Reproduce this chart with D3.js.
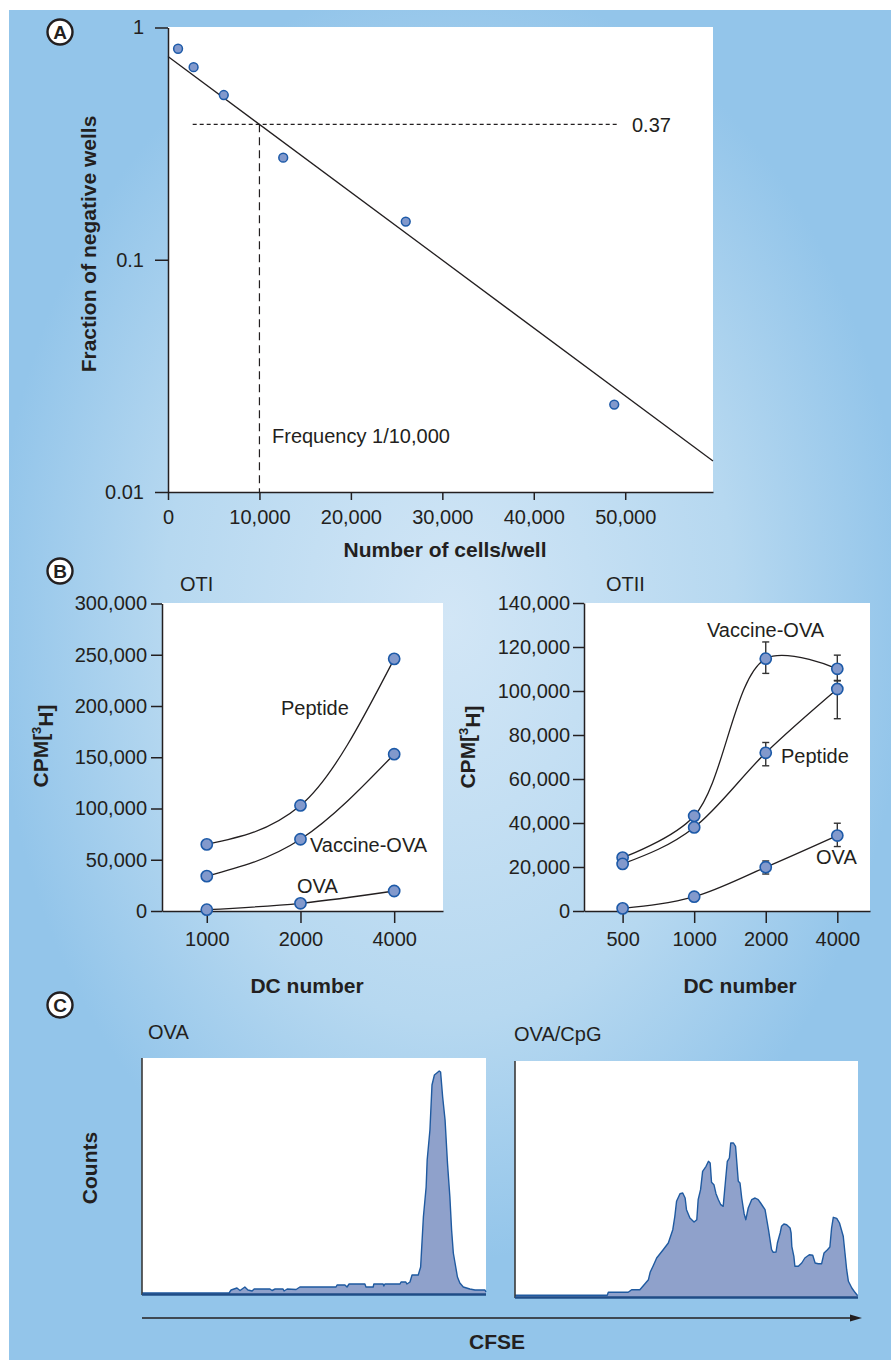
<!DOCTYPE html>
<html>
<head>
<meta charset="utf-8">
<script src="https://cdn.jsdelivr.net/npm/d3@7"></script>
<style>
  html, body { margin: 0; padding: 0; background: #fff; }
  svg { display: block; font-family: 'Liberation Sans', Arial, Helvetica, sans-serif; }
</style>
</head>
<body>
<svg id="fig" width="891" height="1360"></svg>
<script>
// ---- Panel A: limiting dilution ----
const cellsPerWell = [1100, 2800, 6100, 12600, 26000, 48800];
const fracNegative = [0.81, 0.675, 0.512, 0.275, 0.146, 0.0238];
const fitCells = [0, 59600];
const fitFrac = [0.75, 0.0136];
const cutoffLevel = 0.383;   // where the "0.37" line is drawn
const cutoffCells = 10000;
const aYTicks = [1, 0.1, 0.01];
const aXTicks = [0, 10000, 20000, 30000, 40000, 50000];

// ---- Panel B: OTI ----
const otiDC = [1000, 2000, 4000];
const otiPeptide = [65000, 103000, 246000];
const otiVaccine = [34000, 70000, 153000];
const otiOVA = [1300, 7500, 19500];
const otiYTicks = [0, 50000, 100000, 150000, 200000, 250000, 300000];

// ---- Panel B: OTII ----
const otiiDC = [500, 1000, 2000, 4000];
const otiiVaccine = [24300, 43200, 114700, 110100];
const otiiVaccineUp = [0, 0, 7600, 6200];
const otiiVaccineDown = [0, 0, 6700, 5500];
const otiiPeptide = [21400, 38000, 71900, 100900];
const otiiPeptideUp = [0, 0, 4700, 3900];
const otiiPeptideDown = [0, 0, 5900, 13500];
const otiiOVA = [1200, 6500, 19900, 34300];
const otiiOVAUp = [0, 1500, 2850, 5600];
const otiiOVADown = [0, 1500, 3100, 5000];
const otiiYTicks = [0, 20000, 40000, 60000, 80000, 100000, 120000, 140000];

// ---- Panel C: CFSE histograms (relative CFSE, counts) ----
const ovaCFSE = [0, 25.3, 25.9, 27.6, 28.5, 29.9, 30.8, 32.0, 32.6, 37.2, 37.8, 38.7, 41.0, 41.3, 42.2, 44.8,
  45.9, 56.4, 56.7, 59.0, 59.6, 60.2, 64.8, 65.1, 67.2, 67.4, 70.1, 70.3, 70.6, 75.0, 75.3, 76.7, 77.0,
  77.9, 78.5, 80.3, 81.0, 81.8, 82.6, 82.9, 83.7, 84.3, 85.0, 85.7, 86.4, 86.8, 87.4, 88.1, 88.8, 89.5,
  90.0, 90.5, 91.0, 91.7, 92.4, 93.4, 95.3, 96.8, 99.7, 100];
const ovaCounts = [1, 1, 4, 6, 3.5, 7, 4, 3, 5, 5, 3.5, 5, 5, 3, 5, 4.5,
  7, 7, 9, 9, 7, 10, 10, 7, 7, 10, 10, 8, 10, 10, 12, 12, 10,
  12, 19, 19, 27, 77, 107, 134, 164, 209, 219, 221, 223, 222, 197, 174, 131, 97,
  64, 41, 31, 17, 11, 7, 5, 4, 4, 2];

const cpgCFSE = [0, 26.9, 27.2, 33.0, 34.0, 36.4, 37.9, 38.9, 39.4, 40.3, 41.3, 43.2, 44.7, 46.0, 46.6,
  47.1, 48.1, 48.9, 49.6, 50.0, 51.0, 52.2, 53.0, 53.4, 54.1, 54.7, 55.7, 56.4, 56.9, 57.3, 58.0, 58.6,
  59.3, 60.0, 60.7, 61.4, 61.9, 62.5, 62.9, 63.7, 64.3, 65.1, 65.6, 66.1, 66.8, 67.3, 68.0, 69.0, 70.0,
  70.9, 71.6, 72.9, 73.9, 74.8, 75.3, 76.1, 76.5, 77.3, 77.7, 78.4, 79.2, 80.2, 80.5, 80.7, 81.3, 81.6,
  82.6, 83.6, 84.5, 85.8, 86.8, 87.5, 88.4, 89.4, 90.1, 91.1, 91.8, 92.3, 92.8, 93.8, 94.6, 95.7, 96.2,
  96.7, 97.2, 98.2, 99.1, 99.9];
const cpgCounts = [1.7, 1.7, 4.7, 4.7, 7.3, 7.3, 13.3, 17.3, 24.7, 31.3, 39, 47.3, 54, 67.3, 80.7,
  95.7, 103.3, 104, 99, 87.3, 79, 75, 77.3, 97.3, 107.3, 125.7, 130.7, 135.7, 134, 114.7, 112.3, 103.3,
  97.3, 92.3, 90.7, 117.3, 135.7, 139, 154, 154, 150.7, 115.7, 114, 99, 83.3, 77.3, 89, 97.3, 99,
  97.3, 94, 87.3, 67.3, 47.3, 44.7, 45, 54, 64, 70.7, 73, 72.3, 69, 64, 50.7, 40.7, 30.7,
  30.7, 34, 39, 42.3, 41.7, 34, 33.3, 33.3, 44, 47.3, 50, 69, 79.7, 78.7, 74, 60.7, 44,
  27.3, 15.7, 9, 4.7, 1.3];

const ink = '#231f20';
const dotFill = '#8299cc';
const dotStroke = '#1d5aa8';
const histFill = '#8fa1cb';
const histStroke = '#1f5aa0';

const svg = d3.select('#fig');

// background
const grad = svg.append('defs').append('radialGradient')
  .attr('id', 'bg')
  .attr('gradientUnits', 'userSpaceOnUse')
  .attr('cx', 450).attr('cy', 620).attr('r', 520)
  .attr('gradientTransform', 'translate(450,620) scale(1,1.4) translate(-450,-620)');
grad.append('stop').attr('offset', 0).attr('stop-color', '#d2e6f6');
grad.append('stop').attr('offset', 0.55).attr('stop-color', '#b6d8f0');
grad.append('stop').attr('offset', 0.88).attr('stop-color', '#93c5ea');
grad.append('stop').attr('offset', 1).attr('stop-color', '#93c5ea');

svg.append('rect').attr('x', 9).attr('y', 10).attr('width', 882).attr('height', 1350)
  .attr('fill', 'url(#bg)');

function label(x, y, txt, opts = {}) {
  const t = svg.append('text')
    .attr('x', x).attr('y', y).attr('dy', '0.35em')
    .attr('fill', ink)
    .attr('font-size', opts.size || 20)
    .attr('font-weight', opts.bold ? 'bold' : 'normal')
    .attr('text-anchor', opts.anchor || 'start')
    .text(txt);
  if (opts.rotate) t.attr('transform', `rotate(-90,${x},${y})`);
  return t;
}

function styleAxis(g) {
  g.selectAll('path, line').attr('stroke', ink).attr('stroke-width', 1.5);
  g.selectAll('text').attr('fill', ink).attr('font-size', 20)
    .attr('font-family', "'Liberation Sans', Arial, Helvetica, sans-serif");
  g.attr('font-family', null).attr('font-size', null);
}

function panelTag(x, y, letter) {
  svg.append('circle').attr('cx', x).attr('cy', y).attr('r', 12.5)
    .attr('fill', '#fff').attr('stroke', ink).attr('stroke-width', 2.4);
  svg.append('text').attr('x', x).attr('y', y).attr('dy', '0.36em')
    .attr('text-anchor', 'middle').attr('font-weight', 'bold').attr('font-size', 19)
    .attr('fill', ink).text(letter);
}

// ================= Panel A =================
const xA = d3.scaleLinear().domain([0, 59600]).range([168, 713]);
const yA = d3.scaleLog().domain([0.01, 1]).range([492, 27.5]);

svg.append('rect').attr('x', 168).attr('y', 27).attr('width', 545).attr('height', 465).attr('fill', '#fff');

// fitted line
svg.append('path')
  .datum(d3.zip(fitCells, fitFrac))
  .attr('d', d3.line().x(d => xA(d[0])).y(d => yA(d[1])))
  .attr('fill', 'none').attr('stroke', ink).attr('stroke-width', 1.3);

// 0.37 reference lines
svg.append('line')
  .attr('x1', xA(2700)).attr('x2', xA(49200))
  .attr('y1', yA(cutoffLevel)).attr('y2', yA(cutoffLevel))
  .attr('stroke', ink).attr('stroke-width', 1.2).attr('stroke-dasharray', '4,3');
svg.append('line')
  .attr('x1', xA(cutoffCells)).attr('x2', xA(cutoffCells))
  .attr('y1', yA(cutoffLevel)).attr('y2', yA(0.01))
  .attr('stroke', ink).attr('stroke-width', 1.2).attr('stroke-dasharray', '8,5');

label(632, 125, '0.37');
label(272, 436, 'Frequency 1/10,000');

svg.append('g').attr('transform', 'translate(168,0)')
  .call(d3.axisLeft(yA).tickValues(aYTicks).tickFormat(d => String(d))
    .tickSize(13).tickPadding(11).tickSizeOuter(0))
  .call(styleAxis);
svg.append('g').attr('transform', 'translate(0,492)')
  .call(d3.axisBottom(xA).tickValues(aXTicks).tickFormat(d3.format(','))
    .tickSize(8).tickPadding(10).tickSizeOuter(0))
  .call(styleAxis);

svg.append('g').selectAll('circle')
  .data(d3.zip(cellsPerWell, fracNegative))
  .join('circle')
  .attr('cx', d => xA(d[0])).attr('cy', d => yA(d[1])).attr('r', 4.4)
  .attr('fill', dotFill).attr('stroke', dotStroke).attr('stroke-width', 1.5);

label(89, 244, 'Fraction of negative wells', { bold: true, size: 21, anchor: 'middle', rotate: true });
label(445, 550, 'Number of cells/well', { bold: true, size: 21, anchor: 'middle' });
panelTag(60, 32, 'A');

// ================= Panel B =================
function cpmTitle(x, y) {
  const t = svg.append('text')
    .attr('x', x).attr('y', y).attr('dy', '0.35em')
    .attr('text-anchor', 'middle').attr('font-weight', 'bold').attr('font-size', 21)
    .attr('fill', ink)
    .attr('transform', `rotate(-90,${x},${y})`);
  t.append('tspan').text('CPM[');
  t.append('tspan').attr('font-size', 13).attr('dy', '-0.55em').text('3');
  t.append('tspan').attr('dy', '0.55em').text('H]');
}

function growthPanel(cfg) {
  const { x, y, left, right, top, bottom } = cfg;
  svg.append('rect').attr('x', left).attr('y', top)
    .attr('width', right - left).attr('height', bottom - top).attr('fill', '#fff');

  cfg.series.forEach(s => {
    const line = d3.line().x((d, i) => x(cfg.dc[i])).y(d => y(d)).curve(s.curve || cfg.curve);
    svg.append('path').datum(s.values).attr('d', line)
      .attr('fill', 'none').attr('stroke', ink).attr('stroke-width', 1.3);
  });

  svg.append('g').attr('transform', `translate(${left},0)`)
    .call(d3.axisLeft(y).tickValues(cfg.yTicks).tickFormat(d3.format(','))
      .tickSize(11).tickPadding(cfg.yPad).tickSizeOuter(0))
    .call(styleAxis);
  svg.append('g').attr('transform', `translate(0,${bottom})`)
    .call(d3.axisBottom(x).tickValues(cfg.dc).tickFormat(d3.format('d'))
      .tickSize(12).tickPadding(9).tickSizeOuter(0))
    .call(styleAxis);

  cfg.series.forEach(s => {
    if (s.up) {
      const eb = svg.append('g');
      s.values.forEach((v, i) => {
        if (!s.up[i] && !s.down[i]) return;
        const cx = x(cfg.dc[i]);
        const y1 = y(v + s.up[i]), y2 = y(v - s.down[i]);
        eb.append('line').attr('x1', cx).attr('x2', cx).attr('y1', y1).attr('y2', y2);
        eb.append('line').attr('x1', cx - 3.5).attr('x2', cx + 3.5).attr('y1', y1).attr('y2', y1);
        eb.append('line').attr('x1', cx - 3.5).attr('x2', cx + 3.5).attr('y1', y2).attr('y2', y2);
      });
      eb.selectAll('line').attr('stroke', '#333').attr('stroke-width', 1.4);
    }
    svg.append('g').selectAll('circle').data(s.values).join('circle')
      .attr('cx', (d, i) => x(cfg.dc[i])).attr('cy', d => y(d)).attr('r', 5.6)
      .attr('fill', dotFill).attr('stroke', dotStroke).attr('stroke-width', 1.6);
  });
}

const xB1 = d3.scaleLog().base(2).domain([718, 5740]).range([162, 443]);
const yB1 = d3.scaleLinear().domain([0, 300000]).range([911, 603.5]);
growthPanel({
  x: xB1, y: yB1, left: 162, right: 443, top: 603, bottom: 911,
  dc: otiDC, yTicks: otiYTicks, yPad: 4, curve: d3.curveMonotoneX,
  series: [{ values: otiPeptide }, { values: otiVaccine }, { values: otiOVA }]
});
label(180, 584, 'OTI');
label(281, 708, 'Peptide');
label(310, 845, 'Vaccine-OVA');
label(297, 886, 'OVA');
cpmTitle(41, 746);
label(307, 986, 'DC number', { bold: true, size: 21, anchor: 'middle' });

const xB2 = d3.scaleLog().base(2).domain([344, 5490]).range([584, 870]);
const yB2 = d3.scaleLinear().domain([0, 140000]).range([911, 603]);
growthPanel({
  x: xB2, y: yB2, left: 584, right: 870, top: 603, bottom: 911,
  dc: otiiDC, yTicks: otiiYTicks, yPad: 3, curve: d3.curveMonotoneX,
  series: [
    { values: otiiVaccine, up: otiiVaccineUp, down: otiiVaccineDown, curve: d3.curveCatmullRom.alpha(0.5) },
    { values: otiiPeptide, up: otiiPeptideUp, down: otiiPeptideDown },
    { values: otiiOVA, up: otiiOVAUp, down: otiiOVADown }
  ]
});
label(606, 584, 'OTII');
label(707, 630, 'Vaccine-OVA');
label(781, 756, 'Peptide');
label(816, 857, 'OVA');
cpmTitle(468, 747);
label(740, 986, 'DC number', { bold: true, size: 21, anchor: 'middle' });
panelTag(60, 571, 'B');

// ================= Panel C =================
function histogram(cfg) {
  const { left, right, top, base } = cfg;
  const x = d3.scaleLinear().domain([0, 100]).range([left, right]);
  const y = d3.scaleLinear().domain([0, 236]).range([base, top]);
  svg.append('rect').attr('x', left).attr('y', top)
    .attr('width', right - left).attr('height', base - top + 1).attr('fill', '#fff');
  const pts = d3.zip(cfg.cfse, cfg.counts);
  svg.append('path').datum(pts)
    .attr('d', d3.area().x(d => x(d[0])).y0(base).y1(d => y(d[1])))
    .attr('fill', histFill);
  svg.append('path').datum(pts)
    .attr('d', d3.line().x(d => x(d[0])).y(d => y(d[1])))
    .attr('fill', 'none').attr('stroke', histStroke).attr('stroke-width', 1.4)
    .attr('stroke-linejoin', 'round');
  svg.append('line').attr('x1', left).attr('x2', left).attr('y1', top).attr('y2', base + 1)
    .attr('stroke', '#3a3a3a').attr('stroke-width', 1.6);
  svg.append('line').attr('x1', left).attr('x2', right).attr('y1', base + 0.5).attr('y2', base + 0.5)
    .attr('stroke', '#1f4c86').attr('stroke-width', 2.4);
}

histogram({ left: 142, right: 486, top: 1058, base: 1294, cfse: ovaCFSE, counts: ovaCounts });
histogram({ left: 515, right: 858, top: 1061, base: 1297, cfse: cpgCFSE, counts: cpgCounts });

label(148, 1032, 'OVA');
label(514, 1034, 'OVA/CpG');
label(90, 1168, 'Counts', { bold: true, size: 21, anchor: 'middle', rotate: true });

// CFSE arrow
svg.append('line').attr('x1', 142).attr('x2', 852).attr('y1', 1318).attr('y2', 1318)
  .attr('stroke', ink).attr('stroke-width', 1.3);
svg.append('path').attr('d', 'M850,1314.5 L862,1318 L850,1321.5 Z').attr('fill', ink);
label(497, 1342, 'CFSE', { bold: true, size: 21, anchor: 'middle' });
panelTag(60, 1005, 'C');
</script>
</body>
</html>
